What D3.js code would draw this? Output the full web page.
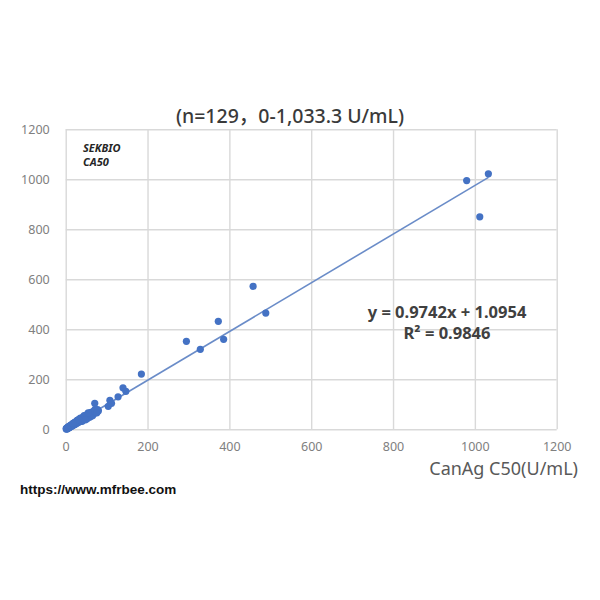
<!DOCTYPE html>
<html>
<head>
<meta charset="utf-8">
<script src="https://cdn.jsdelivr.net/npm/d3@7"></script>
<style>
  body { margin: 0; background: #fff; }
  svg { display: block; }
</style>
</head>
<body>
<svg id="chart" width="600" height="600"></svg>
<script>
/// CanAg C50 vs SEKBIO CA50 correlation ///

// x = CanAg C50 (U/mL), y = SEKBIO CA50
let canagValues = [
  1033, 980, 1012, 458, 489, 373, 386, 295, 329, 185, 140, 147, 128, 108, 104, 112, 71, 72,
  1, 2, 2, 3, 3, 4, 4, 5, 5, 6, 6, 7, 7, 8, 8, 9, 9, 10, 10, 11, 11, 12, 12, 13, 14, 14,
  15, 15, 16, 17, 17, 18, 19, 19, 20, 21, 21, 22, 23, 24, 24, 25, 26, 27, 27, 28, 29, 30,
  30, 31, 32, 33, 34, 35, 35, 36, 37, 38, 39, 40, 40, 41, 42, 43, 44, 45, 46, 47, 48, 49,
  50, 51, 52, 53, 54, 55, 56, 57, 58, 59, 60, 61, 62, 63, 64, 65, 66, 67, 68, 70, 72, 74,
  75, 77, 78, 80, 58, 45, 36, 28, 22, 62, 52, 40, 66, 70, 55, 48, 32, 18, 76
];
let sekbioValues = [
  1022, 995, 850, 572, 465, 432, 360, 352, 320, 221, 166, 152, 130, 116, 92, 104, 104, 80,
  2, 1, 4, 3, 6, 2, 5, 7, 4, 5, 9, 6, 10, 8, 12, 7, 11, 13, 9, 10, 15, 11, 14, 16, 12, 18,
  14, 19, 17, 15, 21, 19, 17, 24, 21, 19, 26, 23, 20, 27, 22, 30, 24, 29, 33, 25, 31, 28,
  36, 33, 29, 38, 31, 37, 42, 33, 40, 35, 44, 38, 46, 36, 45, 40, 50, 42, 48, 44, 55, 46,
  52, 47, 58, 50, 62, 51, 57, 53, 65, 55, 60, 56, 68, 59, 63, 58, 70, 62, 66, 64, 72, 68,
  76, 71, 79, 74, 48, 55, 45, 36, 28, 52, 42, 32, 55, 75, 66, 38, 40, 24, 66
];

let axisTicks = [0, 200, 400, 600, 800, 1000, 1200];
let fitSlope = 0.9742;
let fitIntercept = 1.0954;
let fitRange = [0, 1033.3];

let titleText = "(n=129，0-1,033.3 U/mL)";
let xLabel = "CanAg C50(U/mL)";
let yLabelLines = ["SEKBIO", "CA50"];
let fitLines = ["y = 0.9742x + 1.0954", "R² = 0.9846"];
let sourceText = "https://www.mfrbee.com";

let points = canagValues.map((x, i) => ({x: x, y: sekbioValues[i]}));

let svg = d3.select("#chart");
let font = "'Noto Sans', 'Noto Sans CJK SC', sans-serif";

let plotLeft = 65.7, plotRight = 556.7, plotTop = 129.3, plotBottom = 429.3;

let xScale = d3.scaleLinear().domain([0, 1200]).range([plotLeft, plotRight]);
let yScale = d3.scaleLinear().domain([0, 1200]).range([plotBottom, plotTop]);

// gridlines + tick labels
let yAxis = svg.append("g")
    .attr("transform", `translate(${plotLeft},0)`)
    .call(d3.axisLeft(yScale).tickValues(axisTicks).tickSize(-(plotRight - plotLeft)).tickPadding(16).tickFormat(d3.format("d")));
let xAxis = svg.append("g")
    .attr("transform", `translate(0,${plotBottom})`)
    .call(d3.axisBottom(xScale).tickValues(axisTicks).tickSize(-(plotBottom - plotTop)).tickPadding(13).tickFormat(d3.format("d")));

[xAxis, yAxis].forEach(g => {
    g.select(".domain").remove();
    g.selectAll(".tick line").attr("stroke", "#d9d9d9").attr("stroke-width", 1.4);
    g.selectAll(".tick text")
        .attr("fill", "#808080")
        .style("font-family", font)
        .style("font-size", "12.5px");
});

// trend line
svg.append("line")
    .attr("x1", xScale(fitRange[0]))
    .attr("y1", yScale(fitSlope * fitRange[0] + fitIntercept))
    .attr("x2", xScale(fitRange[1]))
    .attr("y2", yScale(fitSlope * fitRange[1] + fitIntercept))
    .attr("stroke", "#6a8cc8")
    .attr("stroke-width", 1.6);

// points
svg.append("g").selectAll("circle")
    .data(points)
    .join("circle")
    .attr("cx", d => xScale(d.x))
    .attr("cy", d => yScale(d.y))
    .attr("r", 3.6)
    .attr("fill", "#4472c4");

// title
svg.append("text")
    .attr("x", 290).attr("y", 123)
    .attr("text-anchor", "middle")
    .attr("fill", "#3a3a3a")
    .style("font-family", font)
    .style("font-size", "19.5px")
    .style("font-weight", 500)
    .text(titleText);

// series label inside plot
svg.append("g").selectAll("text")
    .data(yLabelLines)
    .join("text")
    .attr("x", 83)
    .attr("y", (d, i) => 152 + i * 14)
    .attr("fill", "#262626")
    .style("font-family", font)
    .style("font-size", "11px")
    .style("font-weight", "bold")
    .style("font-style", "italic")
    .text(d => d);

// fit equation
svg.append("g").selectAll("text")
    .data(fitLines)
    .join("text")
    .attr("x", 447)
    .attr("y", (d, i) => 317.5 + i * 21.5)
    .attr("text-anchor", "middle")
    .attr("fill", "#404040")
    .style("font-family", font)
    .style("font-size", "16.5px")
    .style("font-weight", "bold")
    .text(d => d);

// x axis title
svg.append("text")
    .attr("x", 578).attr("y", 475)
    .attr("text-anchor", "end")
    .attr("fill", "#595959")
    .style("font-family", font)
    .style("font-size", "18px")
    .text(xLabel);

// source
svg.append("text")
    .attr("x", 20).attr("y", 494)
    .attr("fill", "#111")
    .style("font-family", "'Liberation Sans', Arial, sans-serif")
    .style("font-size", "13.5px")
    .style("font-weight", "bold")
    .text(sourceText);
</script>
</body>
</html>
